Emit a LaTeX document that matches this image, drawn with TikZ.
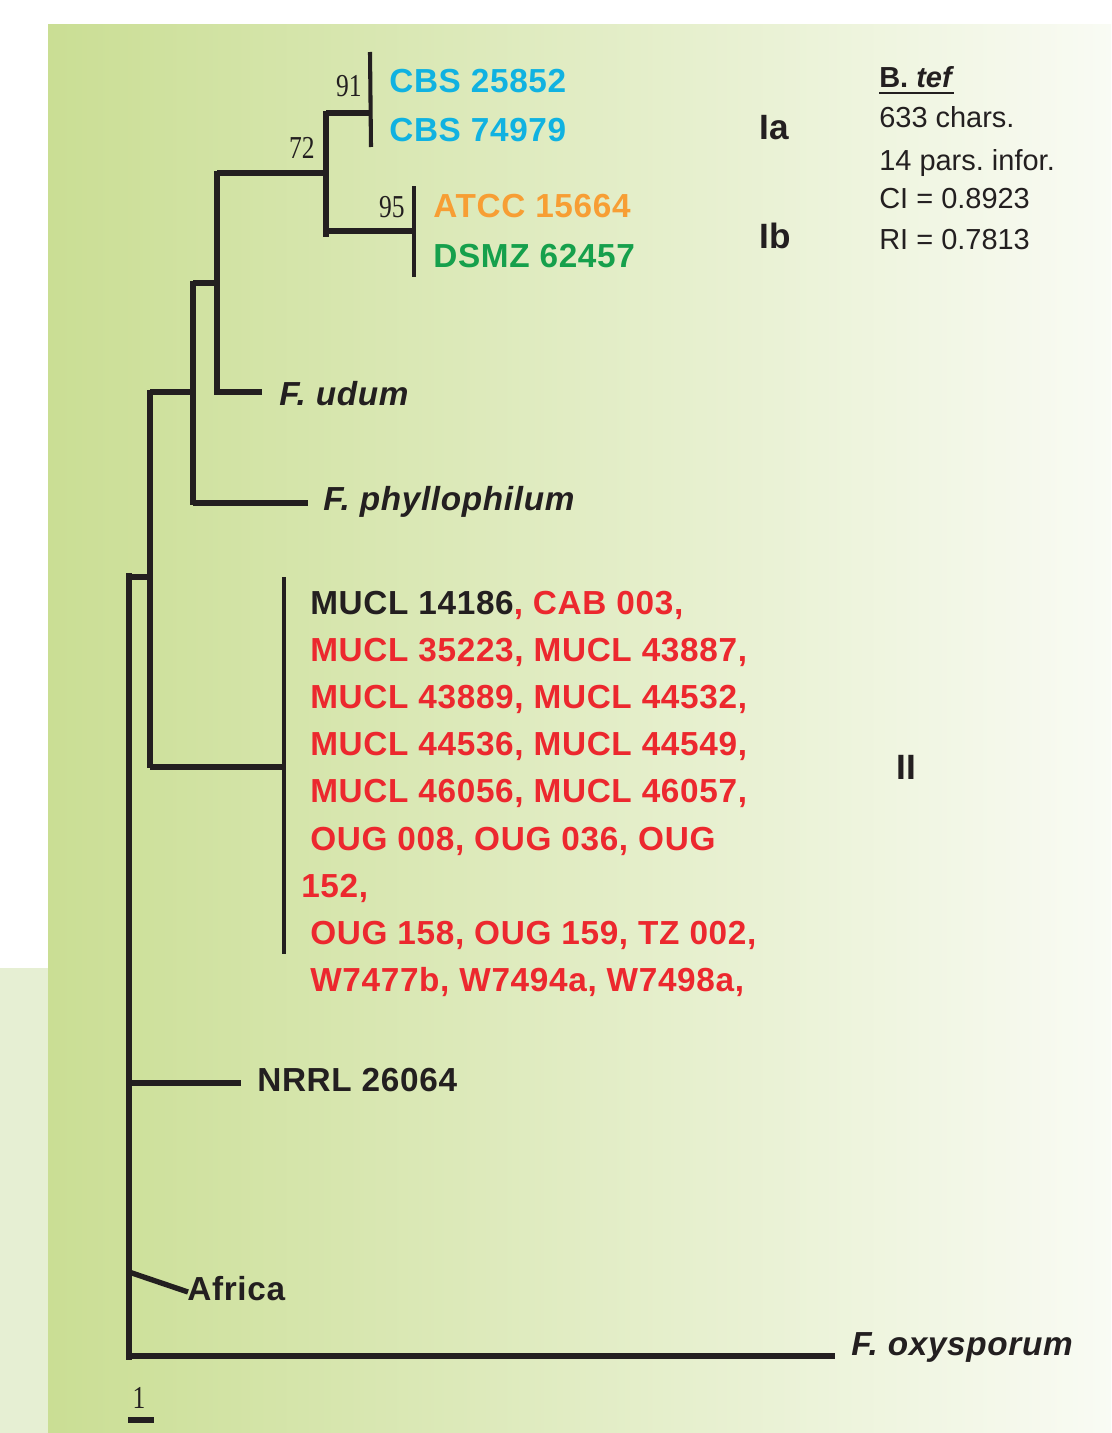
\documentclass[tikz,border=0pt]{standalone}
\usepackage{fontspec}
\setmainfont{Liberation Sans}
\newfontfamily\bootfont{Liberation Serif}[FakeStretch=0.8]
\newfontfamily\taxfamily{Liberation Sans}[LetterSpace=2]
\frenchspacing
\usetikzlibrary{positioning}
\definecolor{ink}{RGB}{35,31,32}
\definecolor{cbsblue}{RGB}{16,178,225}
\definecolor{atccorange}{RGB}{247,158,52}
\definecolor{dsmzgreen}{RGB}{22,160,76}
\definecolor{strainred}{RGB}{236,40,46}
\definecolor{bgleft}{RGB}{202,222,148}
\definecolor{bgright}{RGB}{249,251,244}
\definecolor{bgstrip}{RGB}{230,239,211}
\tikzset{
  branch/.style={draw=ink,line width=3.8pt},
  tipbar/.style={draw=ink,line width=2.9pt},
  taxon/.style={anchor=base west,inner sep=0pt,text=ink,font=\taxfamily\fontsize{23.7}{33.5}\selectfont\bfseries},
  species/.style={taxon,font=\taxfamily\fontsize{23.7}{33.5}\selectfont\bfseries\itshape},
  cladelabel/.style={anchor=base west,inner sep=0pt,text=ink,font=\fontsize{25}{30}\selectfont\bfseries},
  support/.style={anchor=base east,inner sep=0pt,text=ink,font=\bootfont\fontsize{22.7}{26}\selectfont},
  infotext/.style={anchor=base west,inner sep=0pt,text=ink,font=\fontsize{20.6}{28}\selectfont},
}

\begin{document}
\begin{tikzpicture}[x=0.025cm,y=-0.025cm]

\useasboundingbox (0,0) rectangle (1111,1433);
\fill[white] (0,0) rectangle (1111,1433);
\shade[left color=bgleft,right color=bgright] (48,25) rectangle (1111,1433);
\fill[bgstrip] (0,968) rectangle (48,1433);

% joints of the tree
\coordinate (rt) at (129,573);
\coordinate (rb) at (129,1360);
\coordinate (n1) at (150,577);
\coordinate (n1t) at (150,390);
\coordinate (n1b) at (150,768);
\coordinate (n2) at (193,392);
\coordinate (n2t) at (193,281);
\coordinate (n2b) at (193,505);
\coordinate (n3) at (217,283);
\coordinate (n3t) at (217,171);
\coordinate (n3b) at (217,395);
\coordinate (n4) at (326,173);
\coordinate (n4t) at (326,111);
\coordinate (n4b) at (326,237);
\coordinate (n5) at (370,113);
\coordinate (n5t) at (370,52);
\coordinate (n5b) at (371,147);
\coordinate (n6) at (414,231);
\coordinate (n6t) at (414,186);
\coordinate (n6b) at (414,277);
\coordinate (c2) at (284,767);
\coordinate (c2t) at (284,577);
\coordinate (c2b) at (284,954);
% tips
\coordinate (udu) at (262,392);
\coordinate (phy) at (308,503);
\coordinate (nrr) at (241,1083);
\coordinate (afr0) at (129,1272);
\coordinate (afr) at (188,1292);
\coordinate (oxy) at (835,1356);

\draw[branch] (rt) -- (rb);
\draw[branch] (rt |- n1) -- (n1);
\draw[branch] (n1t) -- (n1b);
\draw[branch] (n1t |- n2) -- (n2);
\draw[branch] (n1t |- c2) -- (c2);
\draw[branch] (n2t) -- (n2b);
\draw[branch] (n2t |- n3) -- (n3);
\draw[branch] (n2t |- phy) -- (phy);
\draw[branch] (n3t) -- (n3b);
\draw[branch] (n3t |- udu) -- (udu);
\draw[branch] (n3t |- n4) -- (n4);
\draw[branch] (n4t) -- (n4b);
\draw[branch] (n4t |- n5) -- (n5);
\draw[branch] (n4t |- n6) -- (n6);
\draw[tipbar] (n5t) -- (n5b);
\draw[tipbar] (n6t) -- (n6b);
\draw[tipbar] (c2t) -- (c2b);
\draw[branch] (rt |- nrr) -- (nrr);
\draw[branch] (afr0) -- (afr);
\draw[branch] (rt |- oxy) -- (oxy);

% support values
\node[support] (s91) at (362,97) {91};
\node[support] (s72) at (315,158) {72};
\node[support] (s95) at (405,217) {95};

% strains
\node[taxon,text=cbsblue] (cbs1) at (389,93) {CBS 25852};
\node[taxon,text=cbsblue] (cbs2) at (389,141) {CBS 74979};
\node[taxon,text=atccorange] (atcc) at (433,217) {ATCC 15664};
\node[taxon,text=dsmzgreen] (dsmz) at (433,267) {DSMZ 62457};
\node[species] (udum) at (279,405) {F. udum};
\node[species] (phyllo) at (323,510) {F. phyllophilum};
\node[taxon,anchor=north west,align=left,text=strainred] (cladeII) at (310,591)
  {{\color{ink}MUCL 14186}, CAB 003,\\
   MUCL 35223, MUCL 43887,\\
   MUCL 43889, MUCL 44532,\\
   MUCL 44536, MUCL 44549,\\
   MUCL 46056, MUCL 46057,\\
   OUG 008, OUG 036, OUG\\
   \hspace*{-6.4pt}152,\\
   OUG 158, OUG 159, TZ 002,\\
   W7477b, W7494a, W7498a,};
\node[taxon] (nrrl) at (257,1091) {NRRL 26064};
\node[taxon] (africa) at (187,1300) {Africa};
\node[species] (oxysp) at (851,1355) {F. oxysporum};

% clades
\node[cladelabel] (Ia) at (759,140) {Ia};
\node[cladelabel] (Ib) at (759,248) {Ib};
\node[cladelabel] (II) at (896,779) {II};

% data set
\node[infotext,font=\fontsize{20.6}{28}\selectfont\bfseries] (btef) at (879,88) {B. \textit{tef}};
\draw[ink,line width=2pt] ([yshift=-3.6pt]btef.base west) -- ([yshift=-3.6pt]btef.base east);
\node[infotext] (chars) at (879,127) {633 chars.};
\node[infotext] (pars) at (879,170) {14 pars. infor.};
\node[infotext] (ci) at (879,208) {CI = 0.8923};
\node[infotext] (ri) at (879,249) {RI = 0.7813};

% scale
\node[support,anchor=base] (unit) at (139,1408) {1};
\coordinate (bar0) at (128,1420);
\coordinate (bar1) at (154,1420);
\draw[ink,line width=4.3pt] (bar0) -- (bar1);

\end{tikzpicture}
\end{document}
